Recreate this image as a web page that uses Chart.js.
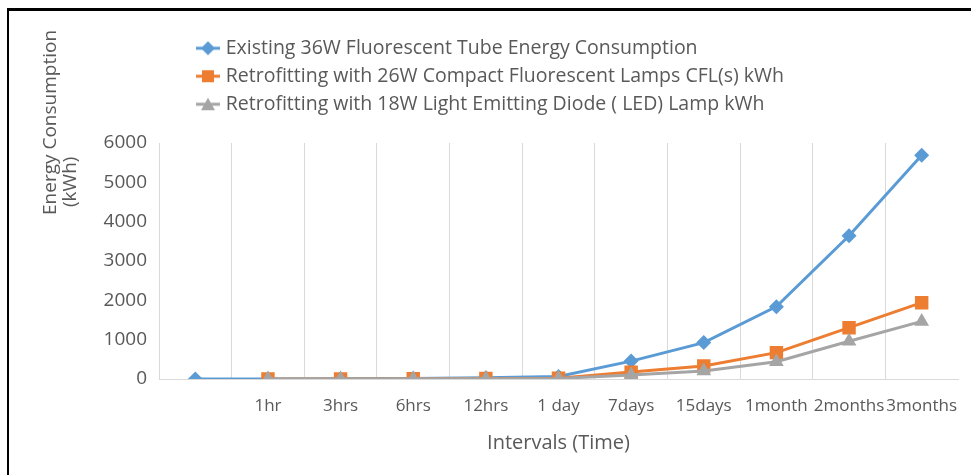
<!DOCTYPE html>
<html><head><meta charset="utf-8">
<script src="https://cdn.jsdelivr.net/npm/chart.js@4"></script>
<style>html,body{margin:0;padding:0;background:#fff;}canvas{display:block;}</style>
</head><body>
<canvas id="c" width="971" height="475"></canvas>
<script>
// ---- data ----
const categories = ['', '1hr', '3hrs', '6hrs', '12hrs', '1 day', '7days', '15days', '1month', '2months', '3months'];
const seriesNames = [
  'Existing 36W Fluorescent Tube Energy Consumption',
  'Retrofitting with 26W Compact Fluorescent Lamps CFL(s) kWh',
  'Retrofitting with 18W Light Emitting Diode ( LED) Lamp kWh'
];
const tubeValues = [0, 2.6, 7.9, 15.8, 31.5, 63, 455, 925, 1840, 3640, 5690];
const cflValues  = [null, 0.9, 2.7, 5.4, 10.8, 21.6, 175, 330, 670, 1305, 1940];
const ledValues  = [null, 0.6, 1.8, 3.6, 7.2, 14.4, 100, 205, 440, 960, 1465];
const yTickMin = 0, yTickMax = 6000, yTickStep = 1000;
const yTitleLines = ['Energy Consumption', '(kWh)'];
const xTitle = 'Intervals (Time)';

// ---- styles ----
const FONT = "'Open Sans', sans-serif";
const TXT = '#595959';
const BLUE = '#5B9BD5', ORANGE = '#ED7D31', GRAY = '#A5A5A5';

function legendIcon(color, shape) {
  const cv = document.createElement('canvas');
  cv.width = 24; cv.height = 16;
  const g = cv.getContext('2d');
  g.strokeStyle = color; g.lineWidth = 3;
  g.beginPath(); g.moveTo(0, 8); g.lineTo(24, 8); g.stroke();
  g.fillStyle = color;
  g.beginPath();
  if (shape === 'diamond') { g.moveTo(12, 1); g.lineTo(19, 8); g.lineTo(12, 15); g.lineTo(5, 8); g.closePath(); }
  else if (shape === 'square') { g.rect(6, 2, 12, 12); }
  else { g.moveTo(12, 1.5); g.lineTo(19, 14); g.lineTo(5, 14); g.closePath(); }
  g.fill();
  return cv;
}
const icons = [legendIcon(BLUE, 'diamond'), legendIcon(ORANGE, 'square'), legendIcon(GRAY, 'triangle')];

const framePlugin = {
  id: 'frame',
  beforeDraw(chart) {
    const ctx = chart.ctx;
    ctx.save();
    ctx.fillStyle = '#fff';
    ctx.fillRect(0, 0, chart.width, chart.height);
    ctx.fillStyle = '#000';
    ctx.fillRect(7, 8, chart.width - 7, 3);
    ctx.fillRect(7, 8, 2, chart.height - 8);
    ctx.restore();
  },
  afterLayout(chart) {
    const lg = chart.legend;
    if (lg) { lg.left += 191.5; lg.right += 191.5; lg.top -= 19; lg.bottom -= 19; }
  },
  afterDraw(chart) {
    const ctx = chart.ctx;
    ctx.save();
    ctx.fillStyle = TXT;
    ctx.font = "19px " + FONT;
    ctx.textAlign = 'left';
    ctx.textBaseline = 'middle';
    const pos = [[51, 215], [71, 207]];
    yTitleLines.forEach((t, i) => {
      ctx.save();
      ctx.translate(pos[i][0], pos[i][1]);
      ctx.rotate(-Math.PI / 2);
      ctx.fillText(t, 0, 0);
      ctx.restore();
    });
    ctx.restore();
  }
};

new Chart(document.getElementById('c'), {
  type: 'line',
  data: {
    labels: categories,
    datasets: [
      { label: seriesNames[0], data: tubeValues, borderColor: BLUE, backgroundColor: BLUE,
        borderWidth: 3, pointStyle: 'rectRot', pointRadius: 7.5, pointBorderWidth: 0, order: 2 },
      { label: seriesNames[1], data: cflValues, borderColor: ORANGE, backgroundColor: ORANGE,
        borderWidth: 3, pointStyle: 'rect', pointRadius: 9.5, pointBorderWidth: 0, order: 1 },
      { label: seriesNames[2], data: ledValues, borderColor: GRAY, backgroundColor: GRAY,
        borderWidth: 3, pointStyle: 'triangle', pointRadius: 8.5, pointBorderWidth: 0, order: 0 }
    ]
  },
  options: {
    responsive: false,
    animation: false,
    events: [],
    devicePixelRatio: 1,
    spanGaps: false,
    layout: { padding: { top: 49, right: 13, left: 0, bottom: 0 } },
    elements: { line: { tension: 0 } },
    plugins: {
      tooltip: { enabled: false },
      legend: {
        position: 'top',
        align: 'start',
        labels: {
          usePointStyle: true,
          pointStyleWidth: 16,
          padding: 8.5,
          color: TXT,
          font: { family: FONT, size: 19.5 },
          sort: (a, b) => a.datasetIndex - b.datasetIndex,
          generateLabels: (chart) => chart.data.datasets.map((ds, i) => ({
            text: ds.label, fillStyle: ds.borderColor, strokeStyle: ds.borderColor,
            lineWidth: 0, pointStyle: icons[i], datasetIndex: i, hidden: false, fontColor: TXT
          }))
        }
      }
    },
    scales: {
      x: {
        type: 'category',
        offset: true,
        grid: {
          offset: true,
          drawTicks: false,
          lineWidth: 1,
          color: (c) => c.type === 'tick' ? '#d9d9d9' : 'rgba(0,0,0,0)'
        },
        border: { display: true, color: '#d9d9d9', width: 1 },
        ticks: { color: TXT, font: { family: FONT, size: 17 }, padding: 17, maxRotation: 0, autoSkip: false },
        title: { display: true, text: xTitle, color: TXT, font: { family: FONT, size: 20 }, padding: { top: 0, bottom: 20 } },
        afterFit: (s) => { s.height = 96; s.paddingLeft = 0; s.paddingRight = 0; }
      },
      y: {
        min: yTickMin, max: yTickMax,
        grid: { display: false, drawTicks: false },
        border: { display: false },
        ticks: { stepSize: yTickStep, color: TXT, font: { family: FONT, size: 19 }, padding: 12,
                 callback: (v) => String(v) },
        afterFit: (s) => { s.width = 159; }
      }
    }
  },
  plugins: [framePlugin]
});
</script>
</body></html>
